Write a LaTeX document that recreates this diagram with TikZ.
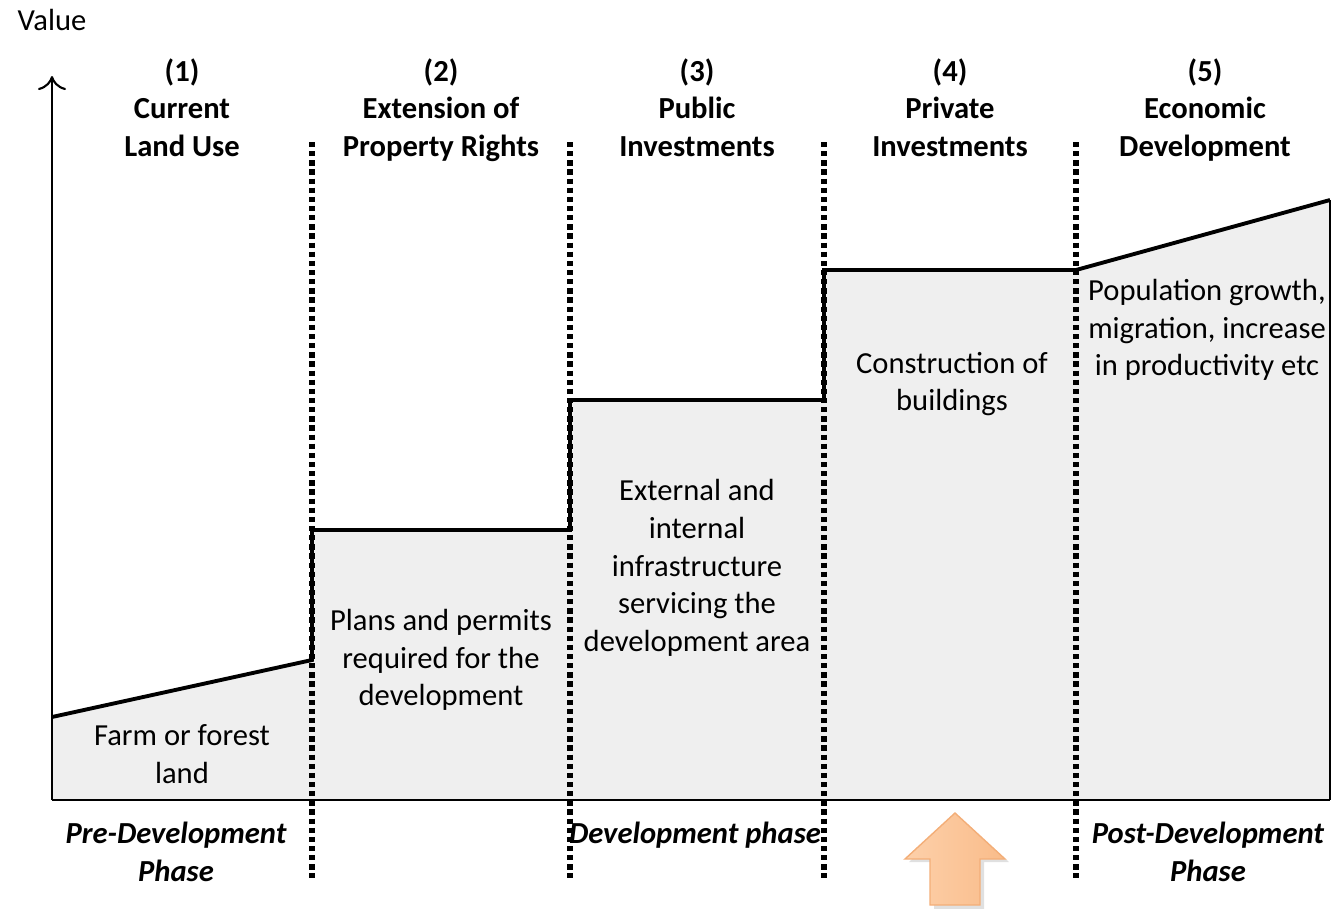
\documentclass[tikz,border=0pt]{standalone}
\usepackage{fontspec}
\setmainfont{Carlito}
\usetikzlibrary{arrows.meta}
\definecolor{areagray}{HTML}{EFEFEF}
\definecolor{arrowlight}{HTML}{FDD0AA}
\definecolor{arrowdark}{HTML}{F9BC8A}
\definecolor{arrowedge}{HTML}{F3AE78}
\begin{document}
\begin{tikzpicture}[x=0.01cm,y=-0.01cm,
  font=\fontsize{8.7}{10.7}\selectfont,
  stage/.style={align=center,anchor=north,font=\fontsize{8.7}{10.7}\selectfont\bfseries},
  note/.style={align=center},
  phase/.style={align=center,anchor=north,font=\fontsize{8.7}{10.7}\selectfont\bfseries\itshape},
  sep/.style={line width=1.7pt,dash pattern=on 1.5pt off 1.1pt}]
\useasboundingbox (0,0) rectangle (1332,908);
% value curve and the area below it
\fill[areagray] (52,800) -- (52,717) -- (312,660) -- (312,530) -- (570,530) -- (570,400)
  -- (824,400) -- (824,270) -- (1076,270) -- (1330,200) -- (1330,800) -- cycle;
% stage borders
\foreach \x in {312,570,824,1076}
  \draw[sep] (\x,142) -- (\x,878);
\draw[line width=1.1pt] (52,717) -- (312,660) -- (312,530) -- (570,530) -- (570,400)
  -- (824,400) -- (824,270) -- (1076,270) -- (1330,200);
\draw[line width=0.6pt] (1330,200) -- (1330,800);
% axes
\coordinate (origin) at (52,800);
\coordinate (top) at (52,76);
\coordinate (right) at (1330,800);
\draw[line width=0.6pt,-{To[length=4pt,width=8pt]}] (origin) -- (top);
\draw[line width=0.8pt] (origin) -- (right);
\node (value) at (52,20) {Value};
% stage titles
\node[stage] (s1) at (182,46) {(1)\\Current\\Land Use};
\node[stage] (s2) at (441,46) {(2)\\Extension of\\Property Rights};
\node[stage] (s3) at (697,46) {(3)\\Public\\Investments};
\node[stage] (s4) at (950,46) {(4)\\Private\\Investments};
\node[stage] (s5) at (1205,46) {(5)\\Economic\\Development};
% what happens in each stage
\node[note] (farm) at (182,754) {Farm or forest\\land};
\node[note] (plans) at (441,660) {Plans and permits\\required for the\\development};
\node[note] (infra) at (697,568) {External and\\internal\\infrastructure\\servicing the\\development area};
\node[note] (build) at (952,384) {Construction of\\buildings};
\node[note] (growth) at (1207,330) {Population growth,\\migration, increase\\in productivity etc};
% phases
\node[phase] (pre) at (176,810) {Pre-Development\\Phase};
\node[phase] (dev) at (695,810) {Development phase};
\node[phase] (post) at (1208,810) {Post-Development\\Phase};
% marker arrow
\fill[black,opacity=0.12] (909,862) -- (958,817) -- (1009,862) -- (984,862) -- (984,909) -- (934,909) -- (934,862) -- cycle;
\shade[left color=arrowlight,right color=arrowdark,draw=arrowedge,line width=0.4pt]
  (905,859) -- (955,813) -- (1005,859) -- (980,859) -- (980,905) -- (930,905) -- (930,859) -- cycle;
\end{tikzpicture}
\end{document}
